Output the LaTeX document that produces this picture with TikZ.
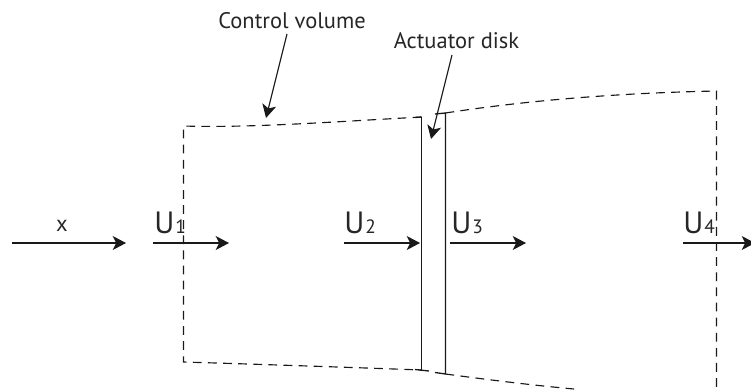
\documentclass[tikz,border=0pt]{standalone}
\usepackage{fontspec}
\setmainfont{PT Sans}
\usetikzlibrary{arrows.meta, positioning}

\begin{document}
\begin{tikzpicture}[
    label/.style={inner sep=0pt, text=black!85, font=\fontsize{12.8}{14}\selectfont},
    ulabel/.style={inner sep=0pt, anchor=base west, text=black!85, font=\fontsize{17.5}{19}\selectfont},
    flowline/.style={draw, black!90, line width=0.65pt, -{Stealth[length=7.6pt, width=8pt, inset=2pt]}},
    boundary/.style={draw, black!90, line width=0.65pt, dash pattern=on 5pt off 3.6pt},
    disk/.style={draw, black!90, line width=0.75pt}
]

\useasboundingbox (0, 0) rectangle (15.02, 7.78);
\clip (0, 0) rectangle (15.02, 7.78);

% ─── Control Volume Boundary ─────────────────────────────────────────
\coordinate (cv_tl) at (3.67, 5.26);
\coordinate (cv_bl) at (3.67, 0.54);
\coordinate (cv_tr) at (14.33, 5.96);
\coordinate (cv_br) at (14.33, 0);
\coordinate (dl_t) at (8.43, 5.44);
\coordinate (dl_b) at (8.43, 0.38);
\coordinate (dr_t) at (8.91, 5.52);
\coordinate (dr_b) at (8.91, 0.30);
\coordinate (cv_end) at (11.48, 0);

\draw[boundary] (dl_t) .. controls (6.6, 5.34) and (5.0, 5.22) .. (cv_tl) -- (cv_bl) .. controls (5.0, 0.50) and (6.8, 0.44) .. (dl_b);
\draw[boundary] (dr_t) .. controls (10.6, 5.78) and (12.4, 5.92) .. (cv_tr) -- (cv_br);
\draw[boundary] (dr_b) .. controls (9.8, 0.18) and (10.7, 0.07) .. (cv_end);

% ─── Actuator Disk ───────────────────────────────────────────────────
\draw[disk] (dl_t) -- (dl_b);
\draw[disk] (8.70, 5.50) -- (dr_t) -- (dr_b) -- (8.70, 0.33);
\draw[disk] (8.30, 5.43) -- (dl_t);
\draw[disk] (8.30, 0.39) -- (8.58, 0.36);

% ─── Labels and Pointers ─────────────────────────────────────────────
\node[label] (cv) at (5.84, 7.36) {Control volume};
\node[label] (ad) at (9.13, 6.96) {Actuator disk};
\coordinate (cv_from) at (5.74, 7.10);
\coordinate (cv_to) at (5.32, 5.42);
\coordinate (ad_from) at (9.04, 6.68);
\coordinate (ad_to) at (8.62, 5.00);
\draw[flowline] (cv_from) -- (cv_to);
\draw[flowline] (ad_from) -- (ad_to);

% ─── Flow Arrows ─────────────────────────────────────────────────────
\node[label] (xl) at (1.24, 3.26) {x};
\coordinate (x_a) at (0.24, 2.92);
\coordinate (x_b) at (2.52, 2.92);
\draw[flowline] (x_a) -- (x_b);

\foreach \xa/\xb/\xl/\i in {3.06/4.58/3.08/1, 6.88/8.40/6.88/2, 9.00/10.52/9.02/3, 13.66/15.10/13.66/4} {
    \node[ulabel] (u\i) at (\xl, 3.12) {U\kern0.5pt{\fontsize{11}{12}\selectfont\i}};
    \coordinate (ua\i) at (\xa, 2.92);
    \coordinate (ub\i) at (\xb, 2.92);
    \draw[flowline] (ua\i) -- (ub\i);
}

\end{tikzpicture}
\end{document}
